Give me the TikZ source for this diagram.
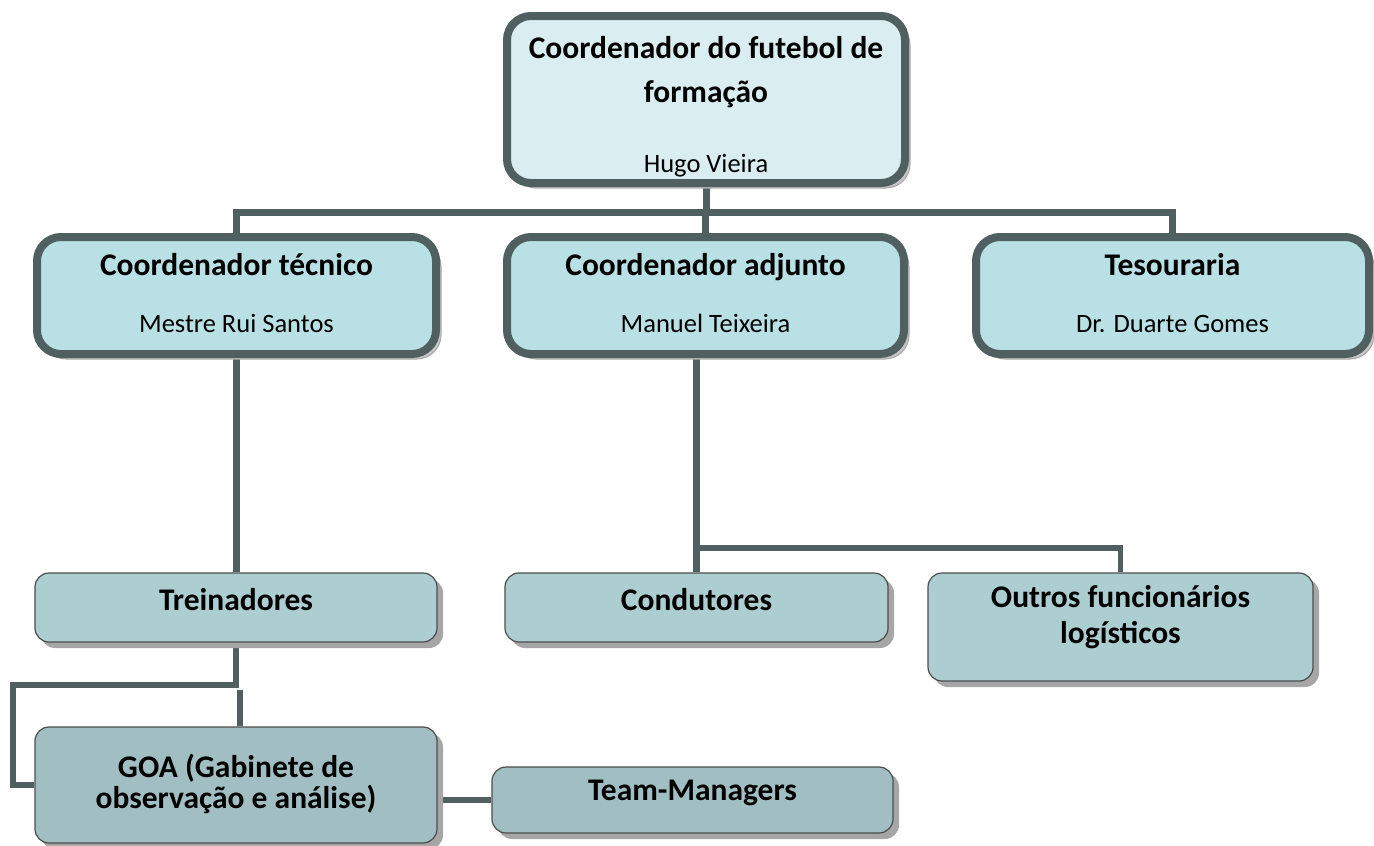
\documentclass[tikz,border=0pt]{standalone}
\usepackage{fontspec}
\setmainfont{Carlito}
\usetikzlibrary{shadows}
\pgfdeclarelayer{bg}
\pgfsetlayers{bg,main}
\definecolor{edge}{RGB}{80,95,96}
\definecolor{fillA}{RGB}{218,238,241}
\definecolor{fillB}{RGB}{185,224,228}
\definecolor{fillC}{RGB}{173,206,209}
\definecolor{fillD}{RGB}{161,191,194}
\tikzset{
  bigbox/.style={draw=edge, line width=8pt, rounded corners=24pt, inner sep=0pt,
    general shadow={fill=black!22, draw=black!35, line width=1pt, shadow xshift=5pt, shadow yshift=-5pt}},
  smallbox/.style={draw=black!70, line width=1.2pt, rounded corners=14pt, inner sep=0pt,
    general shadow={fill=black!35, shadow xshift=6pt, shadow yshift=-6pt}},
  ttl/.style={anchor=base, font=\fontsize{31.5}{34}\selectfont\bfseries, inner sep=0pt},
  sub/.style={anchor=base, font=\fontsize{26.5}{30}\selectfont, inner sep=0pt},
  connA/.style={draw=edge, line width=7pt},
  connB/.style={draw=edge, line width=5.5pt},
}
\begin{document}
\begin{tikzpicture}[x=1pt,y=-1pt]
\useasboundingbox (0,0) rectangle (1374,846);
% boxes
\node[bigbox, fill=fillA, minimum width=398pt, minimum height=167pt] (top) at (706,99.5) {};
\node[bigbox, fill=fillB, minimum width=399pt, minimum height=117pt] (ct) at (236.5,295.5) {};
\node[bigbox, fill=fillB, minimum width=397pt, minimum height=117pt] (ca) at (705.5,295.5) {};
\node[bigbox, fill=fillB, minimum width=393pt, minimum height=117pt] (ts) at (1172.5,295.5) {};
\node[smallbox, fill=fillC, minimum width=402pt, minimum height=69pt] (tr) at (236,607.5) {};
\node[smallbox, fill=fillC, minimum width=383pt, minimum height=69pt] (cd) at (696.5,607.5) {};
\node[smallbox, fill=fillC, minimum width=385pt, minimum height=108pt] (ou) at (1120.5,627) {};
\node[smallbox, fill=fillD, minimum width=402pt, minimum height=116pt] (goa) at (236,785) {};
\node[smallbox, fill=fillD, minimum width=401pt, minimum height=66pt] (tm) at (692.5,800) {};
% texts
\node[ttl] (topt1) at (706,58) {Coordenador do futebol de};
\node[ttl] (topt2) at (706,102) {formação};
\node[sub] (tops) at (706,172) {Hugo Vieira};
\node[ttl] (ctt) at (236.5,275) {Coordenador técnico};
\node[sub] (cts) at (236.5,332) {Mestre Rui Santos};
\node[ttl] (cat) at (705.5,275) {Coordenador adjunto};
\node[sub] (cas) at (705.5,332) {Manuel Teixeira};
\node[ttl] (tst) at (1172.5,275) {Tesouraria};
\node[sub] (tss) at (1172.5,332) {Dr. Duarte Gomes};
\node[ttl] (trt) at (236,610) {Treinadores};
\node[ttl] (cdt) at (696.5,610) {Condutores};
\node[ttl] (out1) at (1120.5,607) {Outros funcionários};
\node[ttl] (out2) at (1120.5,643) {logísticos};
\node[ttl] (goat1) at (236,777) {GOA (Gabinete de};
\node[ttl] (goat2) at (236,808) {observação e análise)};
\node[ttl] (tmt) at (692.5,800) {Team-Managers};
% connector helpers
\coordinate (bus) at (0,212);
\coordinate (bus2) at (0,548);
\coordinate (lft) at (13,685);
\coordinate (stub) at (240,690);
\begin{pgfonlayer}{bg}
\draw[connA] (ct.north) -- (ct.north |- bus) -- (ts.north |- bus) -- (ts.north);
\draw[connA] (top.south) -- (top.south |- bus);
\draw[connA] (ca.north |- bus) -- (ca.north);
\draw[connA] (tr.north |- ct.south) -- (tr.north);
\draw[connA] (cd.north |- ca.south) -- (cd.north);
\draw[connB] (cd.north |- bus2) -- (ou.north |- bus2) -- (ou.north);
\draw[connB] (tr.south) -- (tr.south |- lft) -- (lft) -- (lft |- goa.west) -- (goa.west);
\draw[connB] (stub) -- (stub |- goa.north);
\draw[connB] (tm.west -| goa.east) -- (tm.west);
\end{pgfonlayer}
\end{tikzpicture}
\end{document}
